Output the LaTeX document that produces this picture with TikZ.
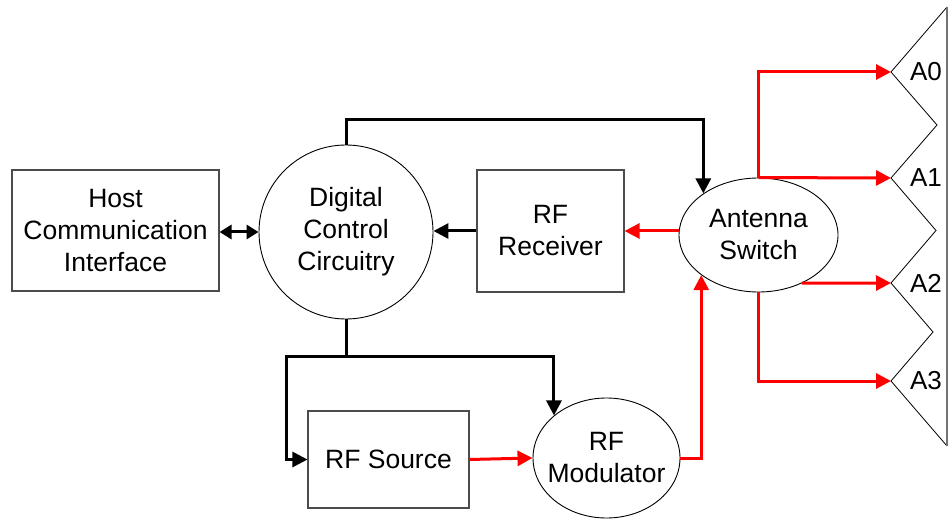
\documentclass[tikz,border=0pt]{standalone}
\usepackage{fontspec}
\setmainfont{Liberation Sans}
\usetikzlibrary{arrows.meta,shapes.geometric}
\begin{document}
\begin{tikzpicture}[x=1pt,y=-1pt,
  txt/.style={font=\fontsize{26.5}{32}\selectfont,align=center,text=black},
  boxn/.style={txt,draw=black!70,line width=1.1pt,rectangle,inner sep=0pt},
  elln/.style={txt,draw=black,line width=0.9pt,ellipse,inner sep=0pt},
  blk/.style={draw=black,line width=3pt,-{Triangle[length=15pt,width=15pt]}},
  redc/.style={draw=red,line width=3pt,-{Triangle[length=15pt,width=15pt]}},
  ant/.style={draw=black,line width=0.8pt},
  alab/.style={font=\fontsize{26}{30}\selectfont,text=black}]
\useasboundingbox (0,0) rectangle (952,521);
% nodes
\node[boxn,minimum width=207pt,minimum height=121pt] (host) at (115.5,230.5) {Host\\Communication\\Interface};
\node[elln,circle,minimum size=174pt] (dcc) at (346,232) {Digital\\Control\\Circuitry};
\node[boxn,minimum width=147pt,minimum height=122pt] (rx) at (550.5,231) {RF\\Receiver};
\node[elln,minimum width=159pt,minimum height=114pt] (as) at (758.5,235) {Antenna\\Switch};
\node[boxn,minimum width=161pt,minimum height=97pt] (src) at (388.5,459.5) {RF Source};
\node[elln,inner xsep=-20pt,inner ysep=-6pt,minimum width=147pt,minimum height=120pt] (mod) at (606.5,458) {RF\\Modulator};
% antennas
\coordinate (t0) at (891,72);
\coordinate (t1) at (891,178);
\coordinate (t2) at (891,283);
\coordinate (t3) at (891,381);
\draw[ant] (947,7) -- (t0) -- (937,125) -- (t1) -- (936,230.5) -- (t2) -- (933,332) -- (t3) -- (947,446);
\draw[draw=black!55,line width=2pt] (947,7) -- (947,446);
\node[alab] (a0) at (926,72) {A0};
\node[alab] (a1) at (926,178) {A1};
\node[alab] (a2) at (926,283) {A2};
\node[alab] (a3) at (926,381) {A3};
% black connectors
\draw[draw=black,line width=3pt,{Triangle[length=12pt,width=14pt]}-{Triangle[length=12pt,width=14pt]}] (host.east |- dcc.west) -- (dcc.west);
\draw[blk] (rx.west) -- (rx.west -| dcc.east);
\draw[blk] (dcc.north) -- ++(0,-25) -| (as.143);
\coordinate (j) at (346,356);
\draw[draw=black,line width=3pt] (dcc.south) -- (j);
\draw[blk] (j) -| ([xshift=-21pt]src.west) -- (src.west);
\draw[blk] (j) -| (mod.141);
% red connectors
\draw[redc] (as.west |- rx.east) -- (rx.east);
\draw[redc] (src.east) -- (mod.west);
\draw[redc] (mod.east) -| (as.215);
\draw[redc] (as.north) |- (t0);
\draw[redc] (as.north) -- (t1);
\draw[redc] (as.-48) -- (t2);
\draw[redc] (as.south) |- (t3);
\end{tikzpicture}
\end{document}
